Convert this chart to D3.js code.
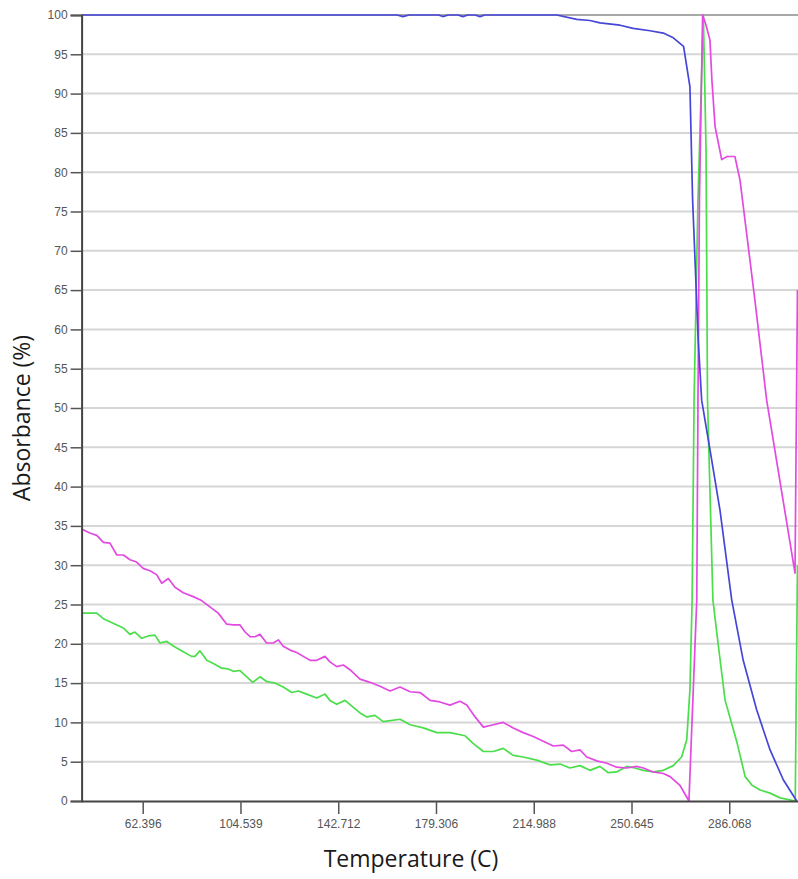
<!DOCTYPE html>
<html lang="en">
<head>
  <meta charset="UTF-8">
  <title>Absorbance vs Temperature</title>
  <style>
    body { margin: 0; background: #fff; }
    .tick text { font-family: "Liberation Sans", Arial, sans-serif; font-size: 12px; fill: #555; }
  </style>
</head>
<body>
  <script src="https://d3js.org/d3.v7.min.js"></script>
  <script>
    // x is the sample number (category axis), labels show the temperature at some samples
    const tickIdx = [25, 65, 105, 145, 185, 225, 265];
    const tickTemps = ["62.396", "104.539", "142.712", "179.306", "214.988", "250.645", "286.068"];
    const yTicks = d3.range(0, 101, 5);

    // [sample, absorbance %]
    const blue = [[0,100],[129,100],[131.5,99.8],[134,100],[146,100],[147.8,99.8],[150,100],[154,100],[156,99.8],[158,100],
      [161,100],[163,99.8],[165,100],[194.4,100],[202.6,99.45],[208,99.3],[212.1,99.0],[220.3,98.7],[225.7,98.3],[232.6,98.0],
      [238,97.7],[242.1,97.1],[246.3,96.0],[248.9,90.9],[250,76.5],[252.3,58.6],[253.7,51.0],[257.8,43.4],[261.2,37.0],
      [266,25.6],[270.7,17.9],[276.2,11.6],[281.7,6.5],[287.1,2.7],[292.6,0]];

    const magenta = [[0,34.6],[3.4,34.1],[6.2,33.8],[8.9,32.9],[11.6,32.8],[14.4,31.3],[17.1,31.3],[19.8,30.7],[22.5,30.4],
      [25.2,29.6],[28,29.3],[30.7,28.8],[32.8,27.7],[35.5,28.3],[38.2,27.2],[41.6,26.5],[45.7,26.0],[49.1,25.5],[52.5,24.7],
      [55.9,23.9],[59.4,22.5],[62.1,22.4],[64.8,22.4],[66.9,21.5],[68.9,20.9],[70.9,20.9],[73,21.2],[75.7,20.1],[78.4,20.1],
      [80.5,20.5],[82.5,19.7],[85.3,19.2],[88,18.9],[90.7,18.4],[93.5,17.9],[96.2,17.9],[99.6,18.4],[101.6,17.7],[104.4,17.1],
      [107.1,17.3],[109.8,16.7],[113.9,15.5],[118,15.1],[122.1,14.6],[126.2,14.0],[130.3,14.5],[134.4,13.9],[138.5,13.8],
      [142.6,12.8],[146.6,12.6],[150.7,12.2],[154.8,12.7],[157.6,12.2],[161,10.7],[164.4,9.4],[168.5,9.7],[172.5,10.0],
      [176.6,9.3],[180.7,8.7],[184.8,8.2],[188.9,7.6],[193,7.0],[197.1,7.1],[200.5,6.3],[203.9,6.5],[206.7,5.6],[210.8,5.1],
      [214.9,4.8],[218.9,4.3],[223,4.2],[227.1,4.4],[229.8,4.2],[233.9,3.7],[238,3.5],[240.8,3.1],[244.8,2.0],[248.5,0],
      [251.7,25.6],[252.2,51.0],[252.8,76.5],[254.1,100],[255.5,98.7],[257.1,96.8],[257.9,91.7],[259.2,85.8],[261.9,81.6],
      [264.1,82.0],[267.3,82.0],[269.4,79.0],[275.5,63.7],[280.3,51.0],[291.9,29.0],[292.9,65]];

    const green = [[0,23.9],[3.4,23.9],[6.2,23.9],[8.9,23.2],[11.6,22.8],[14.4,22.4],[17.1,22.0],[19.8,21.2],[21.8,21.5],
      [24.6,20.7],[27.3,21.0],[30,21.1],[32.1,20.1],[34.8,20.3],[38.2,19.6],[41.6,19.0],[45,18.4],[46.4,18.4],[48.4,19.1],
      [51.2,17.9],[53.9,17.5],[57.3,16.9],[60,16.8],[62.1,16.5],[64.8,16.6],[67.6,15.8],[70,15.1],[73,15.8],[75.7,15.2],
      [79.1,15.0],[82.5,14.5],[86,13.8],[88.7,14.0],[92.1,13.6],[96.2,13.1],[99.6,13.6],[101.6,12.8],[104.4,12.3],[107.8,12.8],
      [111.2,11.9],[113.9,11.2],[116.7,10.7],[120,10.9],[123.4,10.1],[130.3,10.4],[134.4,9.7],[139.8,9.3],[145.3,8.7],
      [150.7,8.7],[156.9,8.3],[160.3,7.3],[164.4,6.3],[168.5,6.3],[172.5,6.7],[176.6,5.8],[180.7,5.6],[186.2,5.2],[191.7,4.6],
      [195.8,4.7],[199.8,4.2],[203.9,4.5],[208,3.9],[212.1,4.4],[215.5,3.6],[218.9,3.7],[223,4.4],[226.4,4.2],[229.8,3.9],
      [233.9,3.7],[238,3.9],[242.1,4.5],[245.5,5.6],[247.6,7.8],[248.9,14.1],[249.8,25.6],[250.6,51.0],[252.2,76.5],[254.4,100],
      [255.5,82.8],[256.1,51.0],[258.3,25.6],[260.4,20.1],[263.3,12.8],[268.2,7.4],[271.5,3.1],[274.3,2.0],[277.6,1.4],
      [281.7,1.0],[285.8,0.4],[292,0],[292.9,30]];

    const width = 798, height = 879;
    const margin = { top: 15, right: 0, bottom: 78, left: 82 };

    const svg = d3.select('body')
      .append('svg')
      .attr('width', width)
      .attr('height', height);

    const x = d3.scaleLinear().domain([0, 293]).range([81.6, 797.7]);
    const y = d3.scaleLinear().domain([0, 100]).range([height - margin.bottom, margin.top]);

    // gridlines
    svg.append('g')
      .selectAll('line')
      .data(yTicks.filter(d => d > 0))
      .join('line')
      .attr('x1', x(0))
      .attr('x2', width)
      .attr('y1', d => y(d))
      .attr('y2', d => y(d))
      .attr('stroke', d => d === 100 ? '#a8a8a8' : '#d6d6d6')
      .attr('stroke-width', 2);

    svg.append('defs').append('clipPath')
      .attr('id', 'plot')
      .append('rect')
      .attr('x', x(0))
      .attr('y', 0)
      .attr('width', width - x(0))
      .attr('height', y(0) + 1);

    const line = d3.line()
      .x(d => x(d[0]))
      .y(d => y(d[1]));

    const series = [
      { data: green, color: '#4ade4a' },
      { data: magenta, color: '#e24ae2' },
      { data: blue, color: '#4646d8' }
    ];

    svg.append('g')
      .attr('clip-path', 'url(#plot)')
      .selectAll('path')
      .data(series)
      .join('path')
      .attr('d', d => line(d.data))
      .attr('fill', 'none')
      .attr('stroke', d => d.color)
      .attr('stroke-width', 1.7)
      .attr('stroke-linejoin', 'round');

    // y axis
    const yAxis = svg.append('g')
      .attr('transform', `translate(${x(0)},0)`)
      .call(d3.axisLeft(y).tickValues(yTicks).tickSize(11).tickPadding(3));
    yAxis.select('.domain').attr('stroke', '#444').attr('stroke-width', 2);
    yAxis.selectAll('.tick line').attr('stroke', '#555').attr('stroke-width', 1.5);

    // x axis
    const xAxis = svg.append('g')
      .attr('transform', `translate(0,${y(0)})`)
      .call(d3.axisBottom(x).tickValues(tickIdx).tickFormat((d, i) => tickTemps[i]).tickSize(13).tickPadding(5).tickSizeOuter(0));
    xAxis.select('.domain').attr('stroke', '#444').attr('stroke-width', 2);
    xAxis.selectAll('.tick line').attr('stroke', '#555').attr('stroke-width', 1.5);

    svg.append('text')
      .attr('x', 411)
      .attr('y', 867)
      .attr('text-anchor', 'middle')
      .attr('font-family', '"Open Sans", sans-serif')
      .attr('font-size', 23)
      .attr('fill', '#1a1a1a')
      .text('Temperature (C)');

    svg.append('text')
      .attr('transform', 'translate(30,418) rotate(-90)')
      .attr('text-anchor', 'middle')
      .attr('font-family', '"Open Sans", sans-serif')
      .attr('font-size', 23)
      .attr('fill', '#1a1a1a')
      .text('Absorbance (%)');
  </script>
</body>
</html>
